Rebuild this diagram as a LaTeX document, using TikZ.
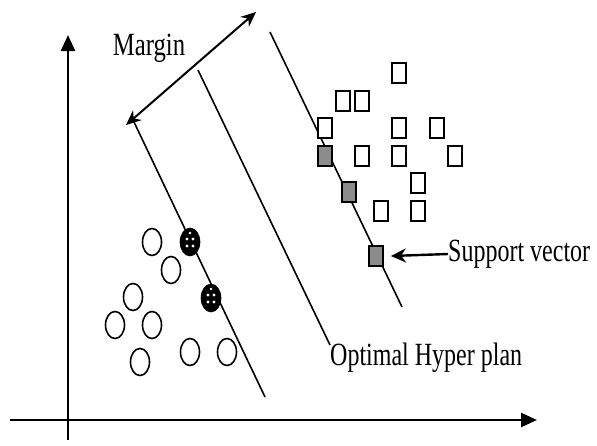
\documentclass[tikz,border=0pt]{standalone}
\usepackage{graphicx}
\usepackage{fontspec}
\setmainfont{Liberation Serif}
\usetikzlibrary{arrows.meta,shapes.geometric}
\definecolor{svgray}{RGB}{140,140,140}
\begin{document}
\begin{tikzpicture}[x=1pt,y=-1pt,
  axis/.style={line width=2.6pt,-{Triangle[length=16pt,width=14pt]}},
  plane/.style={line width=1.6pt},
  pt/.style={ellipse,draw,line width=1.6pt,minimum width=19pt,minimum height=27pt,inner sep=0pt,fill=white},
  svc/.style={pt,fill=black,path picture={
      \fill[white] ([xshift=-3pt,yshift=3pt]path picture bounding box.center) circle (1.6pt);
      \fill[white] ([xshift=3pt,yshift=3pt]path picture bounding box.center) circle (1.6pt);
      \fill[white] ([xshift=-3pt,yshift=-4pt]path picture bounding box.center) circle (1.6pt);
      \fill[white] ([xshift=3pt,yshift=-4pt]path picture bounding box.center) circle (1.6pt);
      \fill[white] ([xshift=0pt,yshift=9pt]path picture bounding box.center) circle (1.4pt);}},
  sq/.style={rectangle,draw,line width=1.8pt,minimum width=14pt,minimum height=20pt,inner sep=0pt,fill=white},
  svs/.style={sq,fill=svgray},
  lbl/.style={font=\fontsize{24}{24}\selectfont,inner sep=0pt},
  marrow/.style={line width=2pt,{Stealth[length=15pt,width=13pt]}-{Stealth[length=15pt,width=13pt]}},
  parrow/.style={line width=2.4pt,-{Stealth[length=15pt,width=14pt]}}
]
\useasboundingbox (0,0) rectangle (597,445);

% axes
\coordinate (yb) at (68,440);
\coordinate (yt) at (68,35);
\coordinate (xl) at (10,420);
\coordinate (xr) at (537,420);
\draw[axis] (yb) -- (yt);
\draw[axis] (xl) -- (xr);

% margin boundaries and optimal hyperplane
\coordinate (l1a) at (134,122);
\coordinate (l1b) at (265,397);
\coordinate (l2a) at (198,70);
\coordinate (l2b) at (330,345);
\coordinate (l3a) at (270,32);
\coordinate (l3b) at (402,307);
\draw[plane] (l1a) -- (l1b);
\draw[plane] (l2a) -- (l2b);
\draw[plane] (l3a) -- (l3b);

% margin width
\coordinate (ma) at (126,125);
\coordinate (mb) at (256,12);
\draw[marrow] (ma) -- (mb);
\node[lbl] (mlabel) at (149,48) {\scalebox{1.03}[1.35]{Margin}};

% class one (circles)
\node[pt] (c1) at (152,242) {};
\node[pt] (c2) at (171,270) {};
\node[pt] (c3) at (133,297) {};
\node[pt] (c4) at (115,325) {};
\node[pt] (c5) at (152,325) {};
\node[pt] (c6) at (140,362) {};
\node[pt] (c7) at (190,352) {};
\node[pt] (c8) at (227,352) {};
\node[svc] (cs1) at (190,242) {};
\node[svc] (cs2) at (211,298) {};

% class two (squares)
\node[sq] (s1) at (399,73) {};
\node[sq] (s2) at (343,101) {};
\node[sq] (s3) at (362,101) {};
\node[sq] (s4) at (325,128) {};
\node[sq] (s5) at (399,128) {};
\node[sq] (s6) at (437,128) {};
\node[sq] (s7) at (362,156) {};
\node[sq] (s8) at (399,156) {};
\node[sq] (s9) at (455,156) {};
\node[sq] (s10) at (418,183) {};
\node[sq] (s11) at (381,211) {};
\node[sq] (s12) at (418,211) {};
\node[svs] (ss1) at (325,156) {};
\node[svs] (ss2) at (349,192) {};
\node[svs] (ss3) at (376,256) {};

% labels
\node[lbl,anchor=west] (svlabel) at (448,254) {\scalebox{1}[1.35]{Support vector}};
\coordinate (svtip) at ([xshift=7pt]ss3.east);
\draw[parrow] (svlabel.west) -- (svtip);
\node[lbl,anchor=west] (hplabel) at (330,358) {\scalebox{1}[1.35]{Optimal Hyper plan}};
\end{tikzpicture}
\end{document}
